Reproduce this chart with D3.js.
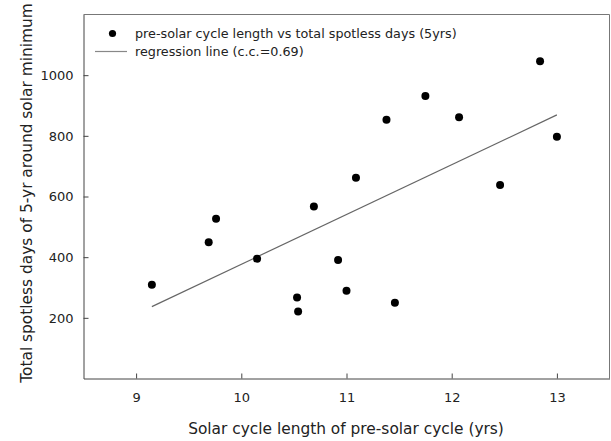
<!DOCTYPE html>
<html>
<head>
<meta charset="utf-8">
<script src="https://cdn.jsdelivr.net/npm/d3@7"></script>
<style>
  html, body { margin: 0; padding: 0; background: #fff; }
  svg { display: block; }
  text { font-family: "DejaVu Sans", Verdana, sans-serif; fill: #222; }
</style>
</head>
<body>
<svg id="chart" width="611" height="441"></svg>
<script>
// Data
const cycleLength = [9.15, 9.69, 9.76, 10.15, 10.53, 10.54, 10.69, 10.92, 11.00, 11.09, 11.38, 11.46, 11.75, 12.07, 12.46, 12.84, 13.00];
const spotlessDays = [309, 449, 527, 395, 267, 221, 567, 391, 289, 662, 853, 250, 931, 861, 638, 1046, 797];
const regressionX = [9.15, 13.0];
const regressionY = [237, 869];
const xTicks = [9, 10, 11, 12, 13];
const yTicks = [200, 400, 600, 800, 1000];
const legendLabels = ["pre-solar cycle length vs total spotless days (5yrs)", "regression line (c.c.=0.69)"];
const xTitle = "Solar cycle length of pre-solar cycle (yrs)";
const yTitle = "Total spotless days of 5-yr around solar minimum";

const svg = d3.select("#chart");
const m = { left: 83.5, right: 609.5, top: 14.5, bottom: 378.5 };

const x = d3.scaleLinear().domain([8.5, 13.5]).range([m.left, m.right]);
const y = d3.scaleLinear().domain([0, 1200]).range([m.bottom, m.top]);

// frame (top/right)
svg.append("path")
  .attr("d", `M${m.left},${m.top}H${m.right}V${m.bottom}`)
  .attr("fill", "none").attr("stroke", "#777").attr("stroke-width", 1);

// axes
const xAxis = d3.axisBottom(x).tickValues(xTicks).tickSizeInner(-5).tickSizeOuter(0).tickPadding(14).tickFormat(d3.format("d"));
const gx = svg.append("g").attr("transform", `translate(0,${m.bottom})`).call(xAxis);
const yAxis = d3.axisLeft(y).tickValues(yTicks).tickSizeInner(-5).tickSizeOuter(0).tickPadding(10).tickFormat(d3.format("d"));
const gy = svg.append("g").attr("transform", `translate(${m.left},0)`).call(yAxis);
[gx, gy].forEach(g => {
  g.select(".domain").attr("stroke", "#444");
  g.selectAll(".tick line").attr("stroke", "#444");
  g.selectAll(".tick text").attr("font-size", 13).attr("fill", "#222")
    .attr("font-family", "DejaVu Sans, Verdana, sans-serif");
});

// regression line
svg.append("line")
  .attr("x1", x(regressionX[0])).attr("y1", y(regressionY[0]))
  .attr("x2", x(regressionX[1])).attr("y2", y(regressionY[1]))
  .attr("stroke", "#666").attr("stroke-width", 1.2);

// points
svg.append("g").selectAll("circle")
  .data(cycleLength.map((v, i) => ({ x: v, y: spotlessDays[i] })))
  .join("circle")
  .attr("cx", d => x(d.x)).attr("cy", d => y(d.y)).attr("r", 4)
  .attr("fill", "#000");

// legend
const lg = svg.append("g");
lg.append("circle").attr("cx", 112.5).attr("cy", 33.5).attr("r", 3.6).attr("fill", "#000");
lg.append("line").attr("x1", 95).attr("x2", 127).attr("y1", 51.5).attr("y2", 51.5).attr("stroke", "#888").attr("stroke-width", 1.2);
lg.append("text").attr("x", 135).attr("y", 38).attr("font-size", 12.75).text(legendLabels[0]);
lg.append("text").attr("x", 135).attr("y", 56).attr("font-size", 12.75).text(legendLabels[1]);

// titles
svg.append("text").attr("x", 346).attr("y", 434).attr("text-anchor", "middle").attr("font-size", 15.4).text(xTitle);
svg.append("text").attr("transform", `translate(32,193) rotate(-90)`).attr("text-anchor", "middle").attr("font-size", 15.4).text(yTitle);
</script>
</body>
</html>
